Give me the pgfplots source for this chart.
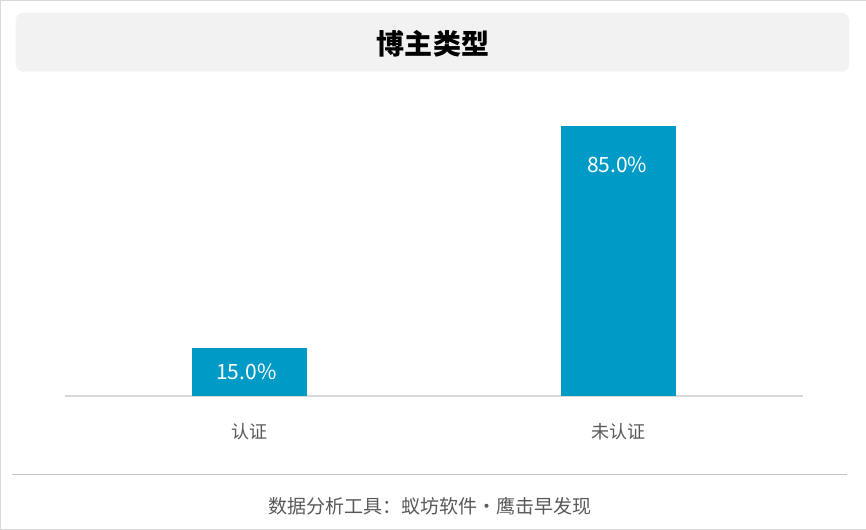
\documentclass[border=0pt]{standalone}
\usepackage{pgfplots}
\pgfplotsset{compat=1.18}
\usepackage{fontspec}
\setmainfont{Noto Sans CJK SC}
\definecolor{barblue}{HTML}{009AC7}
\definecolor{txtgray}{HTML}{595959}
\definecolor{linegray}{HTML}{D9D9D9}
\definecolor{boxgray}{HTML}{F2F2F2}
\begin{document}
\begin{tikzpicture}[x=1pt,y=1pt]
% frame, title box, footer
\draw[linegray] (0.5,0.5) rectangle (865.5,529.5);
\fill[boxgray, rounded corners=8pt] (16,458) rectangle (849,517);
\node[font=\fontsize{28}{32}\selectfont\bfseries] at (433,486) {博主类型};
\draw[linegray!90!black, line width=0.8pt] (12,56) -- (847,56);
\node[text=txtgray, font=\fontsize{19}{23}\selectfont] at (430,24) {数据分析工具：蚁坊软件・鹰击早发现};
\begin{axis}[
  at={(249.5pt,134pt)}, anchor=origin,
  scale only axis,
  width=737pt, height=317.6pt,
  xmin=-0.5, xmax=1.5,
  ymin=0, ymax=100,
  axis x line=bottom, axis y line=none,
  x axis line style={draw=linegray, line width=1.5pt, -},
  xtick={0,1}, xticklabels={认证,未认证},
  major tick length=0pt,
  xticklabel style={text=txtgray, font=\fontsize{18}{22}\selectfont, yshift=-24pt},
  ybar, bar width=115pt, bar shift=0pt,
  clip=false,
  /pgf/number format/assume math mode=true,
]
\addplot[fill=barblue, draw=none,
  nodes near coords={\pgfmathprintnumber[fixed,fixed zerofill,precision=1]{\pgfplotspointmeta}\%},
  nodes near coords style={text=white, font=\fontsize{21}{25}\selectfont, anchor=center, xshift=-3pt, yshift=-23pt},
] coordinates {(0,15.0)};
\addplot[fill=barblue, draw=none,
  nodes near coords={\pgfmathprintnumber[fixed,fixed zerofill,precision=1]{\pgfplotspointmeta}\%},
  nodes near coords style={text=white, font=\fontsize{21}{25}\selectfont, anchor=center, xshift=-1pt, yshift=-39pt},
] coordinates {(1,85.0)};
\end{axis}
\end{tikzpicture}
\end{document}
